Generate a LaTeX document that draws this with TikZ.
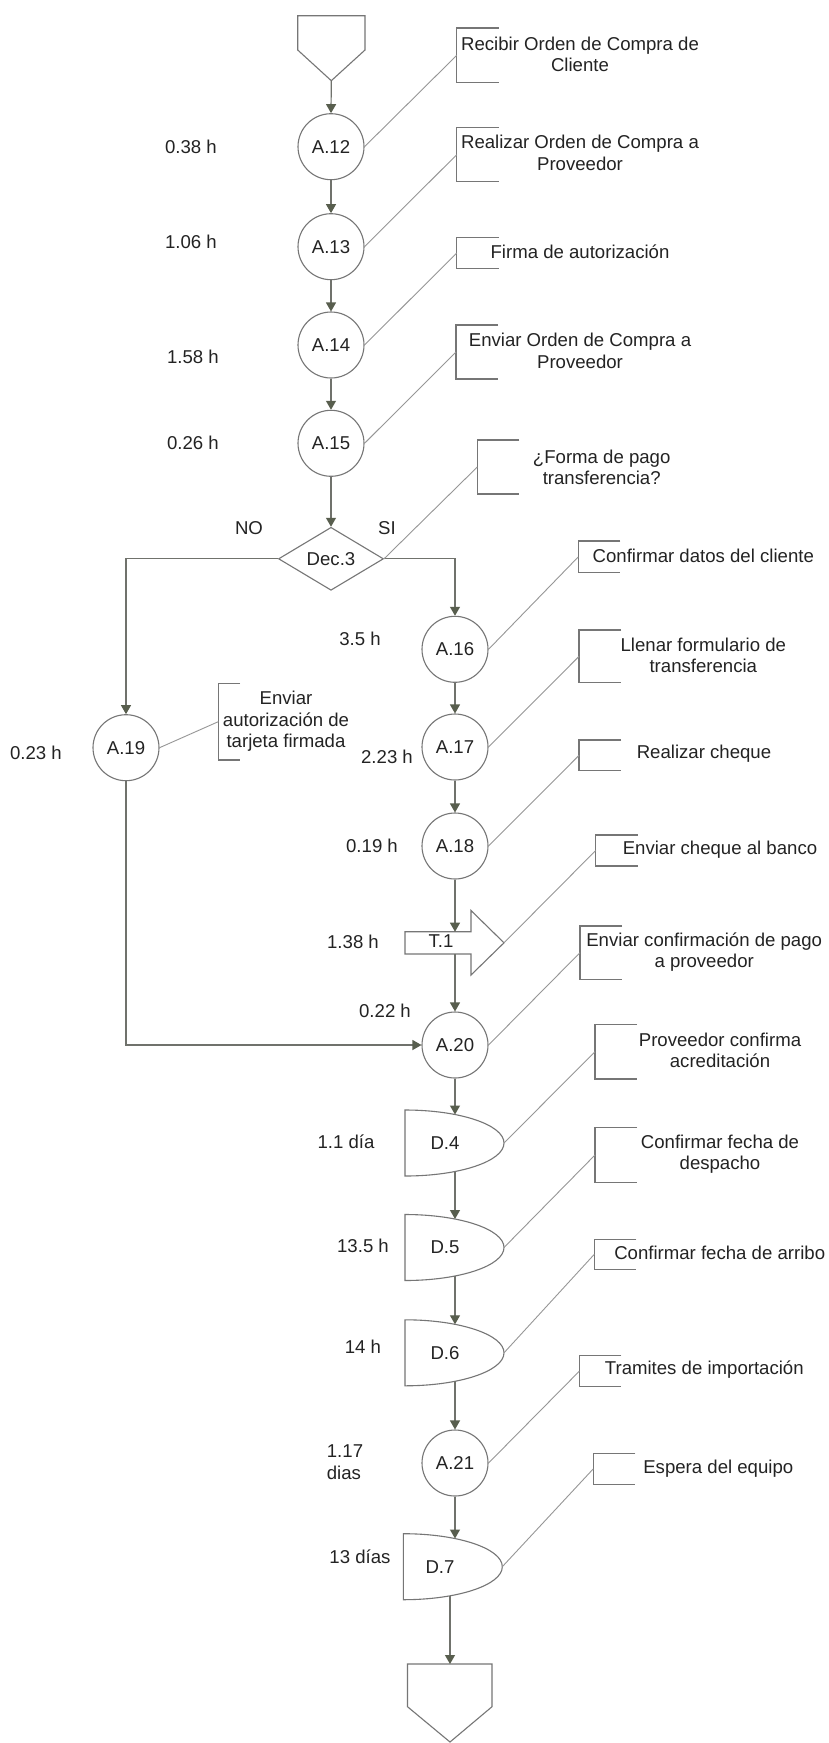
\documentclass[tikz,border=0pt]{standalone}
\usepackage{fontspec}
\setmainfont{Liberation Sans}
\usetikzlibrary{arrows.meta,shapes.geometric,calc}

\definecolor{shapeline}{RGB}{118,118,118}
\definecolor{flowline}{RGB}{112,114,108}
\definecolor{tipfill}{RGB}{88,94,78}
\definecolor{leaderline}{RGB}{150,150,150}
\definecolor{inkc}{RGB}{35,35,35}

\newcommand\diagfont{\fontsize{18.6}{21.5}\selectfont}

% square bracket that frames a note: name, centre x, centre y, width, height
\newcommand\bracketat[5]{%
  \node[brk, minimum width=#4pt, minimum height=#5pt] (#1) at (#2,#3) {};
  \draw[shapeln] (#1.north east) -- (#1.north west) -- (#1.south west) -- (#1.south east);}

% delay symbol: name, left x, centre y, label, label x
\newcommand\delayshape[5]{%
  \node[delaybox] (#1) at (#2,#3) {};
  \draw[shapeln, fill=white] (#1.north west) -- (#1.south west)
     arc[start angle=-90, end angle=90, x radius=99pt, y radius=33pt] -- cycle;
  \node (#1l) at (#5,#3) {#4};}

\begin{document}
\begin{tikzpicture}[x=1pt,y=-1pt,
  every node/.style={font=\diagfont, text=inkc},
  shapeln/.style={draw=shapeline, line width=1.1pt, line join=miter},
  act/.style={circle, shapeln, fill=white, minimum size=66pt, inner sep=0pt},
  dec/.style={diamond, shapeln, fill=white, minimum width=105pt, minimum height=63pt, inner sep=0pt},
  delaybox/.style={rectangle, minimum width=99pt, minimum height=66pt, inner sep=0pt, outer sep=0pt, anchor=west},
  brk/.style={rectangle, inner sep=0pt, outer sep=0pt},
  flow/.style={draw=flowline, line width=1.2pt, -{Triangle[width=10pt,length=9pt,color=tipfill]}},
  leader/.style={draw=leaderline, line width=0.9pt},
  note/.style={align=center}
]
\fill[white] (0,0) rectangle (829,1743);
\useasboundingbox (0,0) rectangle (829,1743);

% ---- start symbol ----
\draw[shapeln] (297.7,15.7) -- (365,15.7) -- (365,50) -- (331.3,80.7) -- (297.7,50) -- cycle;
\coordinate (starttip) at (331.3,80.7);

% ---- main column ----
\node[act] (a12) at (331,146.7) {A.12};
\node[act] (a13) at (331,246.7) {A.13};
\node[act] (a14) at (331,345) {A.14};
\node[act] (a15) at (331,443.3) {A.15};
\node[dec] (dec) at (331,558.8) {Dec.3};

% ---- SI branch ----
\node[act] (a16) at (455,649.3) {A.16};
\node[act] (a17) at (455,747) {A.17};
\node[act] (a18) at (455,846) {A.18};

% transport arrow T.1
\draw[shapeln, fill=white] (405,931.7) -- (471,931.7) -- (471,910.5) -- (504,942.8)
   -- (471,975) -- (471,954) -- (405,954) -- cycle;
\node (t1) at (441,941.5) {T.1};
\coordinate (t1top) at (455,931.7);
\coordinate (t1bot) at (455,954);
\coordinate (t1tip) at (504,942.8);

% ---- NO branch ----
\node[act] (a19) at (126,747.7) {A.19};

% ---- joined column ----
\node[act] (a20) at (455,1045) {A.20};
\delayshape{d4}{405}{1143}{D.4}{445}
\delayshape{d5}{405}{1247.5}{D.5}{445}
\delayshape{d6}{405}{1352.8}{D.6}{445}
\node[act] (a21) at (455,1463) {A.21};
\delayshape{d7}{403.3}{1566.7}{D.7}{440}

% entry and exit points on the delay symbols
\coordinate (d4in)  at ($(d4.west)+(50,-28.5)$);
\coordinate (d4out) at ($(d4.west)+(50,28.5)$);
\coordinate (d5in)  at ($(d5.west)+(50,-28.5)$);
\coordinate (d5out) at ($(d5.west)+(50,28.5)$);
\coordinate (d6in)  at ($(d6.west)+(50,-28.5)$);
\coordinate (d6out) at ($(d6.west)+(50,28.5)$);
\coordinate (d7in)  at ($(d7.west)+(51.7,-28.2)$);
\coordinate (d7out) at ($(d7.west)+(46.7,29.4)$);

% ---- end symbol ----
\draw[shapeln] (407.5,1664) -- (492,1664) -- (492,1706.7) -- (450,1742) -- (407.5,1706.7) -- cycle;
\coordinate (endtop) at (450,1664);

% ---- flow connectors ----
\draw[flow] (starttip) -- (a12.north);
\draw[flow] (a12.south) -- (a13.north);
\draw[flow] (a13.south) -- (a14.north);
\draw[flow] (a14.south) -- (a15.north);
\draw[flow] (a15.south) -- (dec.north);
\draw[flow] (dec.west) -| (a19.north);
\draw[flow] (dec.east) -| (a16.north);
\draw[flow] (a16.south) -- (a17.north);
\draw[flow] (a17.south) -- (a18.north);
\draw[flow] (a18.south) -- (t1top);
\draw[flow] (t1bot) -- (a20.north);
\draw[flow] (a19.south) |- (a20.west);
\draw[flow] (a20.south) -- (d4in);
\draw[flow] (d4out) -- (d5in);
\draw[flow] (d5out) -- (d6in);
\draw[flow] (d6out) -- (a21.north);
\draw[flow] (a21.south) -- (d7in);
\draw[flow] (d7out) -- (endtop);

% ---- branch labels ----
\node (no) at (249,528.5) {NO};
\node (si) at (387,528.5) {SI};

% ---- times ----
\node (h12) at (191,147) {0.38 h};
\node (h13) at (191,242) {1.06 h};
\node (h14) at (193,357) {1.58 h};
\node (h15) at (193,443) {0.26 h};
\node (h16) at (360,639) {3.5 h};
\node (h19) at (36,753) {0.23 h};
\node (h17) at (387,757) {2.23 h};
\node (h18) at (372,846) {0.19 h};
\node (ht1) at (353,942) {1.38 h};
\node (h20) at (385,1011) {0.22 h};
\node (hd4) at (346,1142) {1.1 día};
\node (hd5) at (363,1246) {13.5 h};
\node (hd6) at (363,1347) {14 h};
\node[align=left] (h21) at (345,1462) {1.17\\dias};
\node (hd7) at (360,1557) {13 días};

% ---- notes ----
\bracketat{b12}{477.7}{55.35}{42}{54.7}
\node[note] (n12) at (580,54.2) {Recibir Orden de Compra de\\Cliente};
\bracketat{b13}{477.7}{154.7}{42}{54}
\node[note] (n13) at (580,153) {Realizar Orden de Compra a\\Proveedor};
\bracketat{b14}{477.7}{253}{42}{30.6}
\node[note] (n14) at (580,251.7) {Firma de autorización};
\bracketat{b15}{477}{352}{42}{54}
\node[note] (n15) at (580,351) {Enviar Orden de Compra a\\Proveedor};
\bracketat{bdec}{498.3}{467}{42}{54}
\node[note] (ndec) at (601.7,467.5) {¿Forma de pago\\transferencia?};
\bracketat{b16}{599.3}{556.85}{42}{31.7}
\node[note] (n16) at (703.3,556) {Confirmar datos del cliente};
\bracketat{b17}{600}{656.35}{42}{52.7}
\node[note] (n17) at (703.3,655.5) {Llenar formulario de\\transferencia};
\bracketat{b18}{600}{755.35}{42}{30.7}
\node[note] (n18) at (704,753.3) {Realizar cheque};
\bracketat{bt1}{616.7}{850.5}{42}{31}
\node[note] (nt1) at (720,850) {Enviar cheque al banco};
\bracketat{b20}{601}{952.65}{42}{53.3}
\node[note] (n20) at (704.2,952) {Enviar confirmación de pago\\a proveedor};
\bracketat{bd4}{616}{1051.65}{42}{54.7}
\node[note] (nd4) at (720,1050.5) {Proveedor confirma\\acreditación};
\bracketat{bd5}{616}{1155}{42}{54.6}
\node[note] (nd5) at (720,1154) {Confirmar fecha de\\despacho};
\bracketat{bd6}{615.3}{1254.3}{42}{30}
\node[note] (nd6) at (719.7,1253.3) {Confirmar fecha de arribo};
\bracketat{b21}{600.3}{1371.2}{42}{31}
\node[note] (n21) at (704.3,1369.3) {Tramites de importación};
\bracketat{bd7}{614.3}{1468.8}{42}{31}
\node[note] (nd7) at (718.3,1468.3) {Espera del equipo};
\bracketat{b19}{229.2}{721.65}{21.7}{76.7}
\node[note] (n19) at (286,721.2) {Enviar\\autorización de\\tarjeta firmada};

% ---- leader lines ----
\draw[leader] (a12.east) -- (b12.west);
\draw[leader] (a13.east) -- (b13.west);
\draw[leader] (a14.east) -- (b14.west);
\draw[leader] (a15.east) -- (b15.west);
\draw[leader] (dec.east) -- (bdec.west);
\draw[leader] (a16.east) -- (b16.west);
\draw[leader] (a17.east) -- (b17.west);
\draw[leader] (a18.east) -- (b18.west);
\draw[leader] (t1tip) -- (bt1.west);
\draw[leader] (a20.east) -- (b20.west);
\draw[leader] (d4.east) -- (bd4.west);
\draw[leader] (d5.east) -- (bd5.west);
\draw[leader] (d6.east) -- (bd6.west);
\draw[leader] (a21.east) -- (b21.west);
\draw[leader] (d7.east) -- (bd7.west);
\draw[leader] (a19.east) -- (b19.west);
\end{tikzpicture}
\end{document}
